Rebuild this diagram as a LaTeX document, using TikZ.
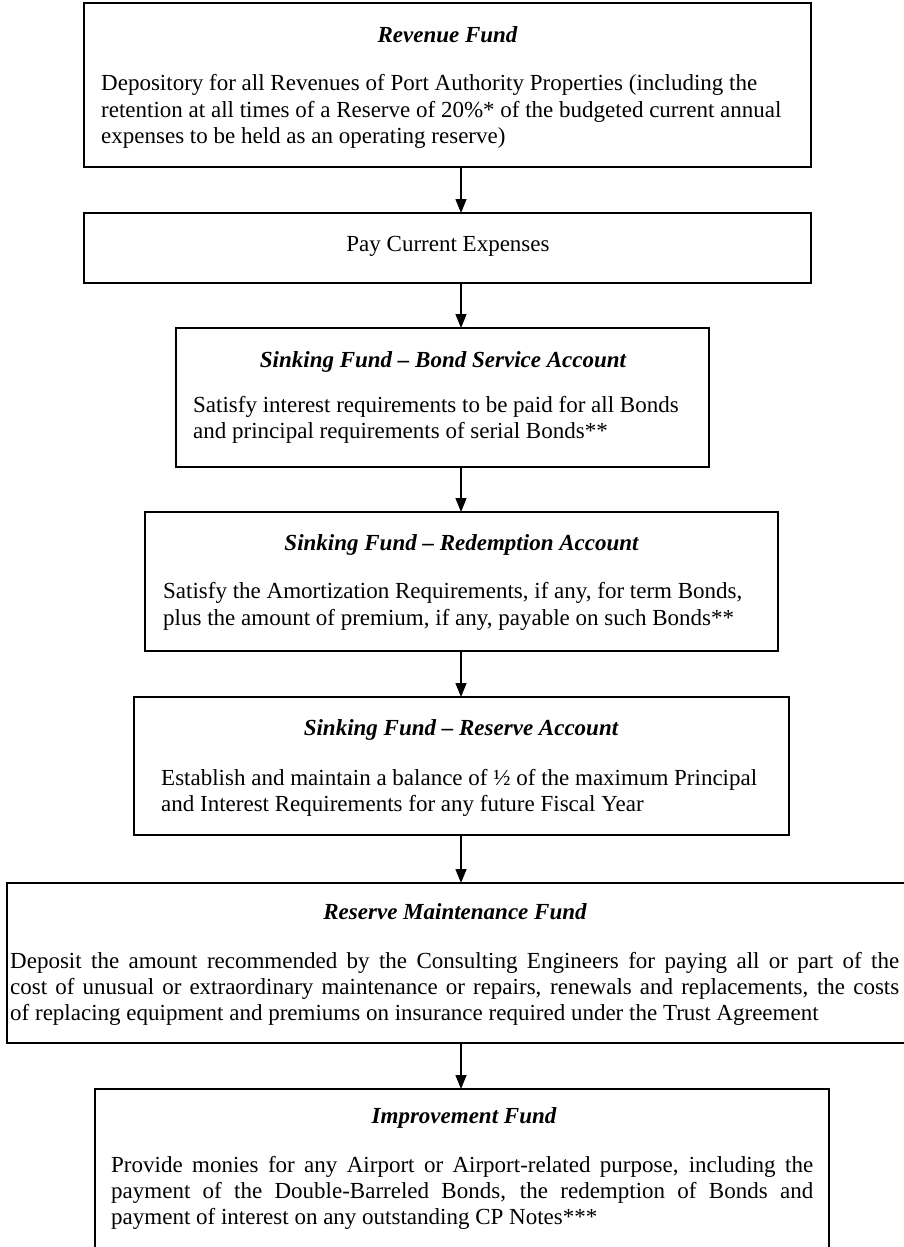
\documentclass[tikz,border=0pt]{standalone}
\usepackage{fontspec}
\setmainfont{Liberation Serif}
\usetikzlibrary{arrows.meta}
\usetikzlibrary{positioning}

\begin{document}
\begin{tikzpicture}[x=1pt, y=-1pt,
    fund box/.style={rectangle, draw, line width=1.6pt, inner sep=0pt, outer sep=0pt},
    head text/.style={inner sep=0pt, anchor=base, font=\fontsize{23}{27}\selectfont\bfseries\itshape},
    body text/.style={inner sep=0pt, anchor=base west, font=\fontsize{23}{27}\selectfont},
    flow/.style={line width=1.4pt, -{Triangle[length=14pt,width=11pt]}}]
      \useasboundingbox (0,0) rectangle (904,1247);
      \coordinate (axis) at (461,0);
      % boxes
      \node[fund box, minimum width=727pt, minimum height=164pt] (rev) at (447.5,85) {};
      \node[fund box, minimum width=727pt, minimum height=70pt] (pay) at (447.5,248) {};
      \node[fund box, minimum width=533pt, minimum height=139pt] (bond) at (442.5,397.5) {};
      \node[fund box, minimum width=633pt, minimum height=139pt] (redem) at (461.5,581.5) {};
      \node[fund box, minimum width=655pt, minimum height=138pt] (resacc) at (461.5,766) {};
      \node[fund box, minimum width=908pt, minimum height=160pt] (maint) at (461,963) {};
      \node[fund box, minimum width=734pt, minimum height=181pt] (impr) at (462,1179.5) {};
      % revenue fund
      \node[head text] (revh) at (447.5,43) {Revenue Fund};
      \node[body text] (rev1) at (101,90) {Depository for all Revenues of Port Authority Properties (including the};
      \node[body text] (rev2) at (101,117) {retention at all times of a Reserve of 20\%* of the budgeted current annual};
      \node[body text] (rev3) at (101,143) {expenses to be held as an operating reserve)};
      \node[inner sep=0pt, anchor=base, font=\fontsize{23}{27}\selectfont] (payt) at (448,251) {Pay Current Expenses};
      % sinking fund
      \node[head text] (bondh) at (443,367) {Sinking Fund -- Bond Service Account};
      \node[body text] (bond1) at (193,412) {Satisfy interest requirements to be paid for all Bonds};
      \node[body text] (bond2) at (193,438) {and principal requirements of serial Bonds**};
      \node[head text] (redemh) at (461.5,550) {Sinking Fund -- Redemption Account};
      \node[body text] (redem1) at (163,598) {Satisfy the Amortization Requirements, if any, for term Bonds,};
      \node[body text] (redem2) at (163,625) {plus the amount of premium, if any, payable on such Bonds**};
      \node[head text] (resacch) at (461,735) {Sinking Fund -- Reserve Account};
      \node[body text] (resacc1) at (161,785) {Establish and maintain a balance of ½ of the maximum Principal};
      \node[body text] (resacc2) at (161,811) {and Interest Requirements for any future Fiscal Year};
      % reserve maintenance and improvement
      \node[head text] (mainth) at (455,919) {Reserve Maintenance Fund};
      \node[body text] (maint1) at (10,968) {\makebox[889pt][s]{Deposit the amount recommended by the Consulting Engineers for paying all or part of the}};
      \node[body text] (maint2) at (10,994) {\makebox[889pt][s]{cost of unusual or extraordinary maintenance or repairs, renewals and replacements, the costs}};
      \node[body text] (maint3) at (10,1020) {of replacing equipment and premiums on insurance required under the Trust Agreement};
      \node[head text] (imprh) at (464,1123) {Improvement Fund};
      \node[body text] (impr1) at (111,1172) {\makebox[702pt][s]{Provide monies for any Airport or Airport-related purpose, including the}};
      \node[body text] (impr2) at (111,1198) {\makebox[702pt][s]{payment of the Double-Barreled Bonds, the redemption of Bonds and}};
      \node[body text] (impr3) at (111,1224) {payment of interest on any outstanding CP Notes***};
      % flow
      \draw[flow] (rev.south -| axis) -- (pay.north -| axis);
      \draw[flow] (pay.south -| axis) -- (bond.north -| axis);
      \draw[flow] (bond.south -| axis) -- (redem.north -| axis);
      \draw[flow] (redem.south -| axis) -- (resacc.north -| axis);
      \draw[flow] (resacc.south -| axis) -- (maint.north -| axis);
      \draw[flow] (maint.south -| axis) -- (impr.north -| axis);
\end{tikzpicture}
\end{document}
